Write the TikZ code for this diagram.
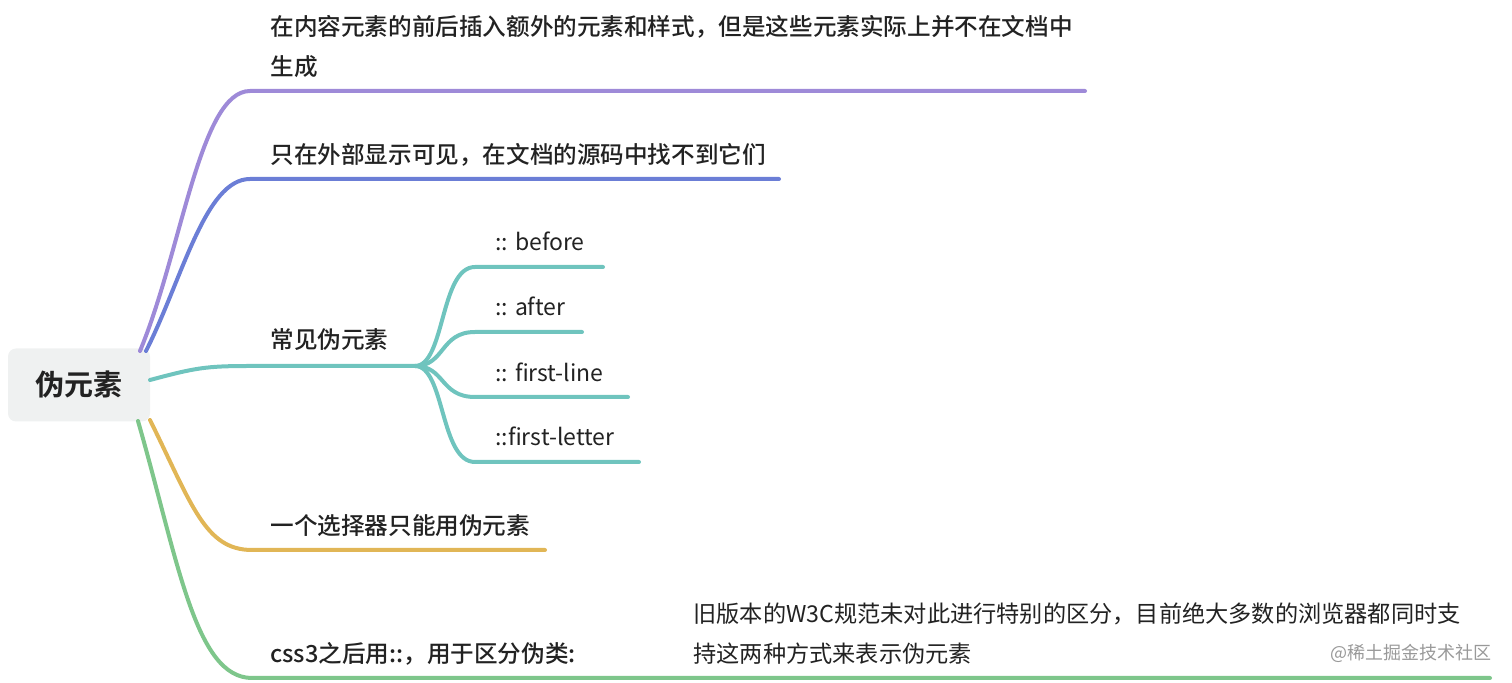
\documentclass[tikz,border=0pt]{standalone}
\usepackage{fontspec}
\setmainfont{Noto Sans CJK SC}[BoldFont={Noto Sans CJK SC Medium}]
\newfontfamily\rootcjk{Noto Sans CJK SC Bold}
\definecolor{cpurple}{HTML}{9E8AD8}
\definecolor{cblue}{HTML}{6B7ED6}
\definecolor{cteal}{HTML}{6FC4BE}
\definecolor{cyellow}{HTML}{E1B656}
\definecolor{cgreen}{HTML}{7EC68B}
\definecolor{rootfill}{HTML}{EFF1F1}
\definecolor{ink}{HTML}{222222}
\tikzset{
  branch/.style={line width=2pt, line cap=round},
  lbl/.style={anchor=base west, inner sep=0pt, font=\fontsize{11.8pt}{15pt}\selectfont\bfseries, text=ink},
  sublbl/.style={anchor=base west, inner sep=0pt, font=\fontsize{11.5pt}{14pt}\selectfont, text=ink},
  longlbl/.style={anchor=base west, inner sep=0pt, font=\fontsize{11.6pt}{14pt}\selectfont, text=ink},
  rootbox/.style={fill=rootfill, rounded corners=4pt, minimum width=71pt, minimum height=36.5pt, inner sep=0pt, font=\fontsize{14.5pt}{17pt}\rootcjk, text=ink}
}
\begin{document}
\begin{tikzpicture}[x=0.5pt,y=-0.5pt]
\useasboundingbox (0,0) rectangle (1512,683);
% root
\node[rootbox] (root) at (79,385) {伪元素};
% anchor points on root
\coordinate (r1) at (140,351);
\coordinate (r2) at (146,351);
\coordinate (r3) at (150,380);
\coordinate (r4) at (150,420);
\coordinate (r5) at (138,421);
% branch end points
\coordinate (b1) at (250,91);  \coordinate (e1) at (1085,91);
\coordinate (b2) at (250,179); \coordinate (e2) at (779,179);
\coordinate (b3) at (250,366); \coordinate (e3) at (415,366);
\coordinate (b4) at (252,550); \coordinate (e4) at (545,550);
\coordinate (b5) at (252,678); \coordinate (e5) at (1490,678);
% sub branches
\coordinate (s1) at (475,267); \coordinate (t1) at (603,267);
\coordinate (s2) at (475,332); \coordinate (t2) at (582,332);
\coordinate (s3) at (475,397); \coordinate (t3) at (628,397);
\coordinate (s4) at (475,462); \coordinate (t4) at (639,462);

\draw[branch, cpurple] (r1) .. controls (182,250) and (200,91) .. (b1) -- (e1);
\draw[branch, cblue] (r2) .. controls (182,280) and (205,179) .. (b2) -- (e2);
\draw[branch, cteal] (r3) .. controls (195,368) and (205,366) .. (b3) -- (e3);
\draw[branch, cyellow] (r4) .. controls (192,505) and (205,550) .. (b4) -- (e4);
\draw[branch, cgreen] (r5) .. controls (178,560) and (195,678) .. (b5) -- (e5);

\draw[branch, cteal] (e3) .. controls (445,366) and (440,267) .. (s1) -- (t1);
\draw[branch, cteal] (e3) .. controls (445,366) and (440,332) .. (s2) -- (t2);
\draw[branch, cteal] (e3) .. controls (445,366) and (440,397) .. (s3) -- (t3);
\draw[branch, cteal] (e3) .. controls (445,366) and (440,462) .. (s4) -- (t4);

% labels
\node[lbl] (l1a) at (270,36) {在内容元素的前后插入额外的元素和样式，但是这些元素实际上并不在文档中};
\node[lbl] (l1b) at (270,76) {生成};
\node[lbl] (l2) at (270,164) {只在外部显示可见，在文档的源码中找不到它们};
\node[lbl] (l3) at (270,349) {常见伪元素};
\node[sublbl] (m1) at (495,251) {:: before};
\node[sublbl] (m2) at (495,316) {:: after};
\node[sublbl] (m3) at (495,382) {:: first-line};
\node[sublbl] (m4) at (495,446) {::first-letter};
\node[lbl] (l4) at (270,535) {一个选择器只能用伪元素};
\node[lbl] (l5) at (270,663) {css3之后用::，用于区分伪类:};
\node[longlbl] (n1) at (693,623) {旧版本的W3C规范未对此进行特别的区分，目前绝大多数的浏览器都同时支};
\node[longlbl] (n2) at (693,663) {持这两种方式来表示伪元素};
\node[anchor=base east, inner sep=0pt, font=\fontsize{9pt}{11pt}\selectfont, text=black!40] (wm) at (1492,660) {@稀土掘金技术社区};
\end{tikzpicture}
\end{document}
